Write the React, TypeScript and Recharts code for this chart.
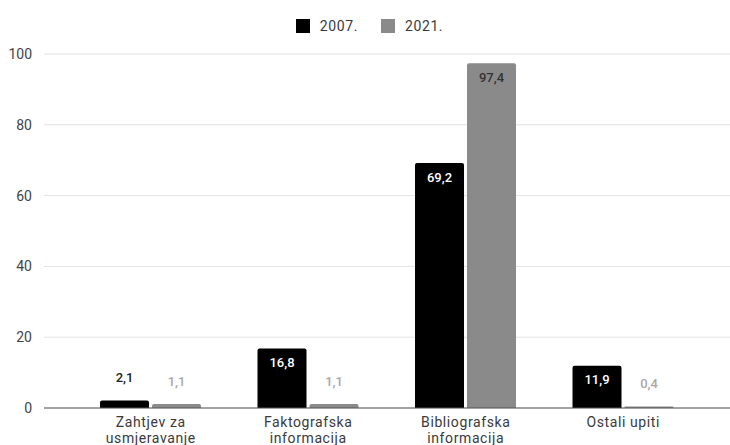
import { Bar, BarChart, CartesianGrid, LabelList, Legend, XAxis, YAxis, Text } from "recharts";

const categories = [
  "Zahtjev za usmjeravanje",
  "Faktografska informacija",
  "Bibliografska informacija",
  "Ostali upiti",
];
const values2007 = [2.1, 16.8, 69.2, 11.9];
const values2021 = [1.1, 1.1, 97.4, 0.4];
const yTicks = [0, 20, 40, 60, 80, 100];

const series = [
  { key: "y2007", name: "2007.", color: "#000000", inside: "#ffffff", outside: "#222222" },
  { key: "y2021", name: "2021.", color: "#8a8a8a", inside: "#333333", outside: "#a8a8a8" },
];

const data = categories.map((name, i) => ({ name, y2007: values2007[i], y2021: values2021[i] }));

const FONT = "Roboto, 'Liberation Sans', Arial, sans-serif";

const fmt = (v: number) => v.toFixed(1).replace(".", ",");

// value label sits inside the bar top when it fits, otherwise above the bar
function makeValueLabel(inside: string, outside: string) {
  return (props: any) => {
    const { x, y, width, height, value } = props;
    const fits = height > 25;
    return (
      <text
        x={x + width / 2}
        y={fits ? y + 14 : y - 23}
        textAnchor="middle"
        dominantBaseline="central"
        fontSize={13}
        fontWeight={500}
        fontFamily={FONT}
        fill={fits ? inside : outside}
      >
        {fmt(value)}
      </text>
    );
  };
}

function CategoryTick(props: any) {
  const { x, y, payload } = props;
  return (
    <Text
      x={x}
      y={y + 1}
      width={110}
      textAnchor="middle"
      verticalAnchor="start"
      lineHeight={16}
      fontSize={14}
      fontFamily={FONT}
      letterSpacing={0.6}
      fill="#3a3a3a"
    >
      {payload.value}
    </Text>
  );
}

function LegendContent() {
  return (
    <div
      style={{
        display: "flex",
        justifyContent: "center",
        alignItems: "center",
        fontFamily: FONT,
        fontSize: 14,
        color: "#3a3a3a",
        paddingLeft: 9,
      }}
    >
      {series.map((s, i) => (
        <div key={s.key} style={{ display: "flex", alignItems: "center", marginLeft: i ? 23 : 0 }}>
          <span style={{ width: 14, height: 14, background: s.color, display: "inline-block", marginRight: 10 }} />
          <span style={{ letterSpacing: 0.6 }}>{s.name}</span>
        </div>
      ))}
    </div>
  );
}

export default function App() {
  return (
    <div style={{ position: "absolute", left: 0, top: 0, width: 730, height: 445, background: "#fff", fontFamily: FONT }}>
      <BarChart
        width={730}
        height={445}
        data={data}
        margin={{ top: 38, right: 0, left: 0, bottom: 0 }}
        barSize={49}
        barGap={3}
      >
        <CartesianGrid vertical={false} stroke="#e2e2e2" />
        <XAxis
          dataKey="name"
          height={37}
          padding={{ left: 28, right: 28 }}
          tickLine={false}
          axisLine={{ stroke: "#555555" }}
          interval={0}
          tick={<CategoryTick />}
        />
        <YAxis
          width={44}
          domain={[0, 100]}
          ticks={yTicks}
          axisLine={false}
          tickLine={false}
          tickMargin={6}
          tick={{ fontSize: 14, fill: "#444444", fontFamily: FONT }}
        />
        <Legend
          verticalAlign="top"
          content={<LegendContent />}
          wrapperStyle={{ top: 18, left: 0, width: 730 }}
        />
        {series.map((s) => (
          <Bar key={s.key} dataKey={s.key} name={s.name} fill={s.color} radius={[2, 2, 0, 0]} isAnimationActive={false}>
            <LabelList dataKey={s.key} content={makeValueLabel(s.inside, s.outside)} />
          </Bar>
        ))}
      </BarChart>
    </div>
  );
}
